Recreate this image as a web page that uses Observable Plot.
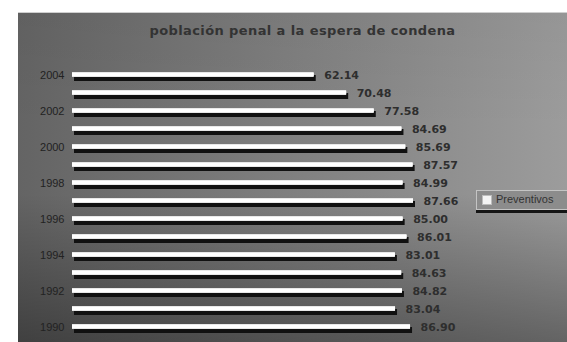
<!DOCTYPE html>
<html>
<head>
<meta charset="utf-8">
<script src="https://cdn.jsdelivr.net/npm/d3@7"></script>
<script src="https://cdn.jsdelivr.net/npm/@observablehq/plot@0.6"></script>
<style>
  html, body { margin: 0; padding: 0; background: #fff; }
  #wrap { position: relative; width: 567px; height: 342px; overflow: hidden; background: #fff; }
  #panel { position: absolute; left: 18px; top: 12px; width: 549px; height: 330px;
    background:
      linear-gradient(to bottom, rgba(0,0,0,0.04) 0%, rgba(0,0,0,0) 35%, rgba(0,0,0,0) 55%, rgba(0,0,0,0.36) 100%),
      linear-gradient(to right, #646464 0%, #7a7a7a 40%, #9c9c9c 100%);
    border-top: 1px solid #cfcfcf; box-sizing: border-box; }
  #title { position: absolute; left: 38px; width: 529px; top: 23px; text-align: center;
    font: bold 13px "DejaVu Sans", sans-serif; color: #333; letter-spacing: 0.4px; }
  #chart { position: absolute; left: 0; top: 0; }
  #legend { position: absolute; left: 476px; top: 190px; width: 110px; height: 20px;
    border: 1px solid #c4c4c4; background: #8c8c8c; box-shadow: 0 3px 0 #151515; box-sizing: border-box; }
  #legend .sw { position: absolute; left: 5px; top: 4px; width: 8px; height: 8px; background: #f4f4f4; border: 1px solid #bdbdbd; }
  #legend .lb { position: absolute; left: 19px; top: 2px; font: 11px "Liberation Sans", Arial, sans-serif; color: #333; white-space: nowrap; }
</style>
</head>
<body>
<div id="wrap">
  <div id="panel"></div>
  <div id="title">población penal a la espera de condena</div>
  <div id="chart"></div>
  <div id="legend"><div class="sw"></div><div class="lb">Preventivos</div></div>
</div>
<script>
const years = [2004, 2003, 2002, 2001, 2000, 1999, 1998, 1997, 1996, 1995, 1994, 1993, 1992, 1991, 1990];
const values = [62.14, 70.48, 77.58, 84.69, 85.69, 87.57, 84.99, 87.66, 85.00, 86.01, 83.01, 84.63, 84.82, 83.04, 86.90];
const tickYears = [2004, 2002, 2000, 1998, 1996, 1994, 1992, 1990];
const seriesName = "Preventivos";

const data = years.map((y, i) => ({year: String(y), value: values[i]}));

const chart = Plot.plot({
  width: 567,
  height: 342,
  marginLeft: 72,
  marginRight: 106,
  marginTop: 66,
  marginBottom: 6,
  style: {background: "transparent", overflow: "visible", color: "#222"},
  x: {domain: [0, 100], axis: null},
  y: {domain: years.map(String), padding: 0, label: null, axis: null},
  marks: [
    Plot.axisY({ticks: tickYears.map(String), tickSize: 0, tickPadding: 8, label: null,
      fontSize: 11, fill: "#222", fontFamily: "Liberation Sans, Arial, sans-serif"}),
    // shadow
    Plot.barX(data, {x: "value", y: "year", fill: "#111", insetTop: 9, insetBottom: 3, dx: 2}),
    // bar
    Plot.barX(data, {x: "value", y: "year", fill: "#e8e8e8", insetTop: 6, insetBottom: 7}),
    Plot.barX(data, {x: "value", y: "year", fill: "#ffffff", insetTop: 7, insetBottom: 8}),
    Plot.text(data, {x: "value", y: "year", text: d => d.value.toFixed(2), dx: 10, textAnchor: "start",
      fontSize: 11, fontWeight: "bold", fill: "#2e2e2e", fontFamily: "DejaVu Sans, sans-serif"})
  ]
});
document.getElementById("chart").appendChild(chart);
document.querySelector("#legend .lb").textContent = seriesName;
</script>
</body>
</html>
